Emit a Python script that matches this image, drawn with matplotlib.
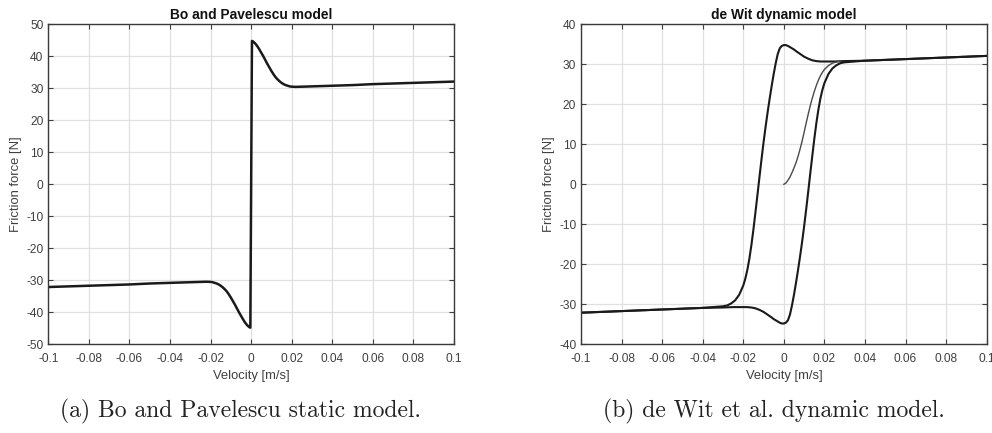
import matplotlib
matplotlib.use("Agg")
import matplotlib.pyplot as plt

plt.rcParams['font.family'] = ['Liberation Sans', 'DejaVu Sans']

# --- Bo and Pavelescu static model: friction vs velocity ---
bp_v = [-0.1, -0.09, -0.08, -0.07, -0.06, -0.05, -0.04, -0.03, -0.025, -0.022,
        -0.020, -0.019, -0.018, -0.017, -0.016, -0.015, -0.014, -0.013, -0.012,
        -0.011, -0.010, -0.009, -0.008, -0.007, -0.006, -0.005, -0.004, -0.003,
        -0.002, -0.001, -0.0004,
        0.0004, 0.001, 0.002, 0.003, 0.004, 0.005, 0.006, 0.007, 0.008, 0.009,
        0.010, 0.011, 0.012, 0.013, 0.014, 0.015, 0.016, 0.017, 0.018, 0.019,
        0.020, 0.022, 0.025, 0.03, 0.04, 0.05, 0.06, 0.07, 0.08, 0.09, 0.1]
bp_f = [-32.1, -31.9, -31.7, -31.5, -31.3, -31.0, -30.8, -30.6, -30.5, -30.45,
        -30.5, -30.6, -30.8, -31.0, -31.3, -31.7, -32.2, -32.8, -33.5,
        -34.4, -35.4, -36.5, -37.6, -38.8, -40.0, -41.1, -42.2, -43.2,
        -44.0, -44.6, -44.8,
        44.8, 44.6, 44.0, 43.2, 42.2, 41.1, 40.0, 38.8, 37.6, 36.5,
        35.4, 34.4, 33.5, 32.8, 32.2, 31.7, 31.3, 31.0, 30.8, 30.6,
        30.5, 30.45, 30.5, 30.6, 30.8, 31.0, 31.3, 31.5, 31.7, 31.9, 32.1]

# --- de Wit (LuGre) dynamic model: hysteresis loop ---
# branch sweeping from -0.1 up to 0.1
up_v = [-0.1, -0.08, -0.06, -0.04, -0.03, -0.028, -0.026, -0.024, -0.022, -0.020,
        -0.019, -0.018, -0.017, -0.016, -0.015, -0.014, -0.013, -0.012, -0.011,
        -0.010, -0.009, -0.008, -0.007, -0.006, -0.005, -0.004, -0.003, -0.002,
        -0.001, 0.0, 0.001, 0.002, 0.003, 0.004, 0.005, 0.006, 0.008, 0.010,
        0.012, 0.014, 0.016, 0.018, 0.020, 0.025, 0.03, 0.04, 0.06, 0.08, 0.1]
up_f = [-32.1, -31.7, -31.3, -30.9, -30.5, -30.3, -29.8, -29.0, -27.6, -25.3,
        -23.6, -21.4, -18.6, -15.2, -11.3, -7.0, -2.6, 1.9, 6.3,
        10.5, 14.4, 18.0, 21.4, 24.6, 27.6, 30.3, 32.6, 34.0,
        34.6, 34.8, 34.8, 34.6, 34.3, 34.0, 33.7, 33.3, 32.6, 31.9,
        31.4, 31.0, 30.8, 30.7, 30.7, 30.7, 30.8, 30.9, 31.3, 31.7, 32.1]
# branch sweeping from 0.1 back down to -0.1
down_v = [0.1, 0.08, 0.06, 0.04, 0.03, 0.028, 0.026, 0.024, 0.022, 0.020,
          0.019, 0.018, 0.017, 0.016, 0.015, 0.014, 0.013, 0.012, 0.011,
          0.010, 0.009, 0.008, 0.007, 0.006, 0.005, 0.004, 0.003, 0.002,
          0.001, 0.0, -0.001, -0.002, -0.003, -0.004, -0.005, -0.006, -0.008,
          -0.010, -0.012, -0.014, -0.016, -0.018, -0.020, -0.025, -0.03, -0.04,
          -0.06, -0.08, -0.1]
down_f = [32.1, 31.7, 31.3, 30.9, 30.5, 30.3, 29.8, 29.0, 27.6, 25.3,
          23.6, 21.4, 18.6, 15.2, 11.3, 7.0, 2.6, -1.9, -6.3,
          -10.5, -14.4, -18.0, -21.4, -24.6, -27.6, -30.3, -32.6, -34.0,
          -34.6, -34.8, -34.8, -34.6, -34.3, -34.0, -33.7, -33.3, -32.6,
          -31.9, -31.4, -31.0, -30.8, -30.7, -30.7, -30.7, -30.8, -30.9,
          -31.3, -31.7, -32.1]
# initial transient starting from rest
init_v = [0.0, 0.001, 0.002, 0.003, 0.004, 0.005, 0.006, 0.007, 0.008, 0.009,
          0.010, 0.011, 0.012, 0.013, 0.014, 0.015, 0.016, 0.017, 0.018, 0.019,
          0.020, 0.022, 0.024, 0.026, 0.028]
init_f = [0.0, 0.3, 1.0, 1.8, 2.9, 4.1, 5.4, 7.0, 8.8, 10.8,
          13.0, 15.3, 17.5, 19.6, 21.5, 23.2, 24.7, 26.0, 27.1, 28.0,
          28.7, 29.7, 30.3, 30.6, 30.8]

x_ticks = [-0.1, -0.08, -0.06, -0.04, -0.02, 0, 0.02, 0.04, 0.06, 0.08, 0.1]
x_labels = ['-0.1', '-0.08', '-0.06', '-0.04', '-0.02', '0',
            '0.02', '0.04', '0.06', '0.08', '0.1']
y_ticks_a = [-50, -40, -30, -20, -10, 0, 10, 20, 30, 40, 50]
y_ticks_b = [-40, -30, -20, -10, 0, 10, 20, 30, 40]

W, H = 992, 433
fig = plt.figure(figsize=(W / 100, H / 100), dpi=100)

ax1 = fig.add_axes([48.3 / W, 1 - 344.3 / H, 405.7 / W, 320 / H])
ax2 = fig.add_axes([581 / W, 1 - 344.3 / H, 405.7 / W, 320 / H])


def style_axes(ax, yticks, title):
    ax.set_xlim(-0.1, 0.1)
    ax.set_ylim(yticks[0], yticks[-1])
    ax.set_xticks(x_ticks)
    ax.set_xticklabels(x_labels)
    ax.set_yticks(yticks)
    ax.set_yticklabels([str(t) for t in yticks])
    ax.grid(True, color='#e0e0e0', linewidth=0.9)
    ax.set_axisbelow(True)
    ax.tick_params(direction='in', length=3.5, width=0.8, colors='#404040',
                   labelsize=8.6, top=True, right=True)
    ax.tick_params(axis='x', pad=6)
    ax.tick_params(axis='y', pad=3.5)
    for s in ax.spines.values():
        s.set_color('#3a3a3a')
        s.set_linewidth(1.0)
    ax.set_title(title, fontsize=9.9, fontweight='bold', color='#111111', pad=3.8)
    ax.set_xlabel('Velocity [m/s]', fontsize=9.4, color='#404040')
    ax.set_ylabel('Friction force [N]', fontsize=9.4, color='#404040')
    ax.xaxis.set_label_coords(0.5, -0.08)
    ax.yaxis.set_label_coords(-26 / 405.7, 0.5)


ax1.plot(bp_v, bp_f, color='#1a1a1a', linewidth=1.8)
style_axes(ax1, y_ticks_a, 'Bo and Pavelescu model')

ax2.plot(up_v, up_f, color='#1a1a1a', linewidth=1.5)
ax2.plot(down_v, down_f, color='#1a1a1a', linewidth=1.5)
ax2.plot(init_v, init_f, color='#4a4a4a', linewidth=1.0)
style_axes(ax2, y_ticks_b, 'de Wit dynamic model')

fig.text(241 / W, 1 - 411 / H, '(a) Bo and Pavelescu static model.',
         family='cmr10', fontsize=17, ha='center', va='center', color='#222222')
fig.text(773.5 / W, 1 - 411 / H, '(b) de Wit et al. dynamic model.',
         family='cmr10', fontsize=17, ha='center', va='center', color='#222222')

fig.savefig('out.png', dpi=100)
